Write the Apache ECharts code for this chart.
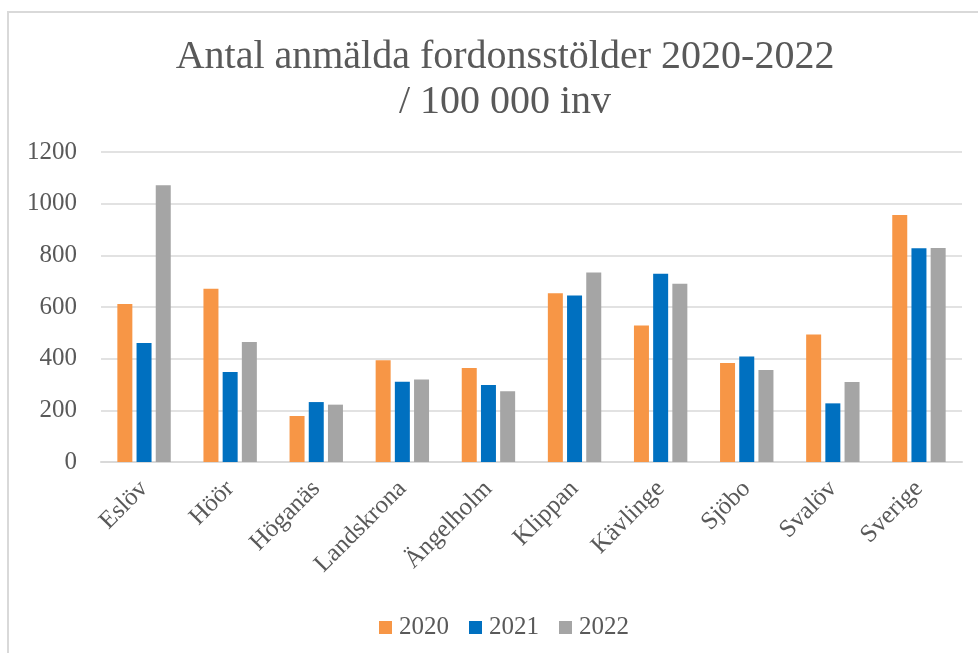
<!DOCTYPE html>
<html>
<head>
<meta charset="utf-8">
<script src="https://cdn.jsdelivr.net/npm/echarts@6/dist/echarts.min.js"></script>
<style>
    html, body { margin: 0; padding: 0; background: #fff; }
    #chart { width: 978px; height: 653px; }
</style>
</head>
<body>
<div id="chart"></div>
<script>
var kommuner = ['Eslöv', 'Höör', 'Höganäs', 'Landskrona', 'Ängelholm', 'Klippan', 'Kävlinge', 'Sjöbo', 'Svalöv', 'Sverige'];
var ar_2020 = [612, 671, 178, 394, 364, 653, 528, 383, 494, 956];
var ar_2021 = [461, 348, 232, 311, 298, 645, 729, 408, 227, 827];
var ar_2022 = [1071, 465, 222, 319, 274, 734, 690, 356, 310, 828];
var yTicks = [0, 200, 400, 600, 800, 1000, 1200];

var font = '"Liberation Serif", serif';
var textColor = '#595959';

var chart = echarts.init(document.getElementById('chart'));

function bar(name, data, color) {
    return {
        name: name,
        type: 'bar',
        data: data,
        barWidth: 15,
        barGap: '28%',
        itemStyle: { color: color }
    };
}

var option = {
    animation: false,
    color: ['#F79646', '#0070C0', '#A5A5A5'],
    graphic: [{
        type: 'rect',
        shape: { x: 8, y: 12, width: 1000, height: 700 },
        style: { fill: 'none', stroke: '#d9d9d9', lineWidth: 2 },
        silent: true
    }],
    title: {
        text: 'Antal anmälda fordonsstölder 2020-2022\n/ 100 000 inv',
        left: 500,
        textAlign: 'center',
        top: 30,
        textStyle: {
            fontFamily: font,
            fontSize: 40,
            fontWeight: 'normal',
            color: textColor,
            lineHeight: 45
        }
    },
    legend: {
        top: 610,
        left: 374,
        itemWidth: 13,
        itemHeight: 13,
        itemGap: 20,
        icon: 'rect',
        textStyle: { fontFamily: font, fontSize: 25, color: textColor, padding: [0, 0, 0, 2] },
        data: ['2020', '2021', '2022']
    },
    grid: {
        left: 101,
        right: 16,
        top: 152,
        height: 310
    },
    xAxis: {
        type: 'category',
        data: kommuner,
        axisLine: { lineStyle: { color: '#d9d9d9', width: 2 } },
        axisTick: { show: false },
        axisLabel: {
            rotate: 45,
            margin: 23,
            fontFamily: font,
            fontSize: 25,
            color: textColor,
            interval: 0
        }
    },
    yAxis: {
        type: 'value',
        min: yTicks[0],
        max: yTicks[yTicks.length - 1],
        interval: 200,
        axisLine: { show: false },
        axisTick: { show: false },
        splitLine: { lineStyle: { color: '#d9d9d9', width: 1.5 } },
        axisLabel: {
            margin: 24,
            fontFamily: font,
            fontSize: 25,
            color: textColor,
            formatter: function (v) { return String(v); }
        }
    },
    series: [
        bar('2020', ar_2020, '#F79646'),
        bar('2021', ar_2021, '#0070C0'),
        bar('2022', ar_2022, '#A5A5A5')
    ]
};

chart.setOption(option);
</script>
</body>
</html>
